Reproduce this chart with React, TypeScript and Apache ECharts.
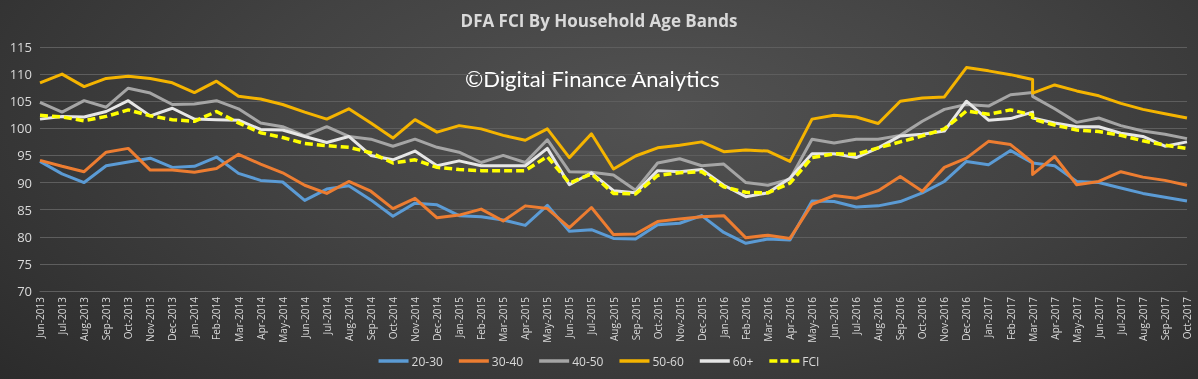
import React, { useEffect, useRef } from "react";
import * as echarts from "echarts";

const months = [
  "Jun-2013", "Jul-2013", "Aug-2013", "Sep-2013", "Oct-2013", "Nov-2013", "Dec-2013",
  "Jan-2014", "Feb-2014", "Mar-2014", "Apr-2014", "May-2014", "Jun-2014", "Jul-2014", "Aug-2014", "Sep-2014", "Oct-2014", "Nov-2014", "Dec-2014",
  "Jan-2015", "Feb-2015", "Mar-2015", "Apr-2015", "May-2015", "Jun-2015", "Jul-2015", "Aug-2015", "Sep-2015", "Oct-2015", "Nov-2015", "Dec-2015",
  "Jan-2016", "Feb-2016", "Mar-2016", "Apr-2016", "May-2016", "Jun-2016", "Jul-2016", "Aug-2016", "Sep-2016", "Oct-2016", "Nov-2016", "Dec-2016",
  "Jan-2017", "Feb-2017", "Mar-2017", "Apr-2017", "May-2017", "Jun-2017", "Jul-2017", "Aug-2017", "Sep-2017", "Oct-2017",
];

// Observation dates: Mar-2017 has two survey points
const pointMonths = [...months.slice(0, 46), "Mar-2017", ...months.slice(46)];

const s2030 = [93.9, 91.6, 90.0, 93.1, 93.8, 94.5, 92.8, 93.0, 94.7, 91.7, 90.4, 90.1, 86.7, 88.8, 89.4, 86.8, 83.8, 86.2, 85.9, 83.9, 83.7, 83.1, 82.1, 85.8, 81.0, 81.3, 79.7, 79.6, 82.2, 82.5, 83.9, 80.8, 78.8, 79.6, 79.4, 86.6, 86.5, 85.5, 85.7, 86.5, 88.1, 90.2, 93.9, 93.3, 95.9, 93.6, 93.6, 93.1, 90.2, 90.0, 89.0, 88.0, 87.3, 86.6];
const s3040 = [94.1, 93.0, 92.0, 95.6, 96.3, 92.3, 92.3, 91.9, 92.6, 95.2, 93.4, 91.8, 89.5, 88.0, 90.2, 88.4, 85.2, 87.1, 83.5, 84.0, 85.1, 82.9, 85.7, 85.2, 81.7, 85.4, 80.4, 80.5, 82.8, 83.3, 83.7, 83.9, 79.8, 80.3, 79.7, 86.0, 87.6, 87.1, 88.5, 91.1, 88.4, 92.8, 94.5, 97.6, 97.0, 93.7, 91.5, 94.8, 89.6, 90.2, 92.0, 91.0, 90.4, 89.5];
const s4050 = [104.8, 103.0, 105.1, 103.9, 107.4, 106.5, 104.4, 104.5, 105.1, 103.6, 101.0, 100.3, 98.6, 100.3, 98.5, 98.0, 96.7, 98.0, 96.5, 95.6, 93.7, 95.0, 93.7, 97.9, 92.0, 91.9, 91.4, 88.6, 93.6, 94.4, 93.1, 93.4, 90.0, 89.5, 90.6, 98.0, 97.3, 98.0, 98.0, 98.7, 101.3, 103.5, 104.4, 104.1, 106.2, 106.6, 105.9, 103.6, 101.1, 101.9, 100.5, 99.5, 98.9, 98.1];
const s5060 = [108.4, 110.0, 107.7, 109.2, 109.6, 109.2, 108.4, 106.6, 108.7, 105.9, 105.4, 104.4, 103.0, 101.7, 103.6, 101.0, 98.2, 101.6, 99.3, 100.5, 99.9, 98.7, 97.8, 99.9, 94.6, 99.0, 92.5, 94.9, 96.4, 96.9, 97.5, 95.7, 96.0, 95.8, 93.9, 101.7, 102.4, 102.1, 100.9, 105.0, 105.6, 105.8, 111.2, 110.6, 109.9, 109.0, 106.5, 108.0, 106.9, 106.0, 104.6, 103.5, 102.7, 101.9];
const s60p = [101.7, 102.2, 102.1, 103.1, 105.1, 102.3, 103.7, 101.7, 101.6, 101.5, 99.8, 99.7, 98.5, 97.4, 98.5, 95.0, 94.2, 95.8, 93.1, 94.0, 93.1, 93.1, 93.1, 96.3, 89.6, 91.8, 88.5, 88.1, 92.2, 92.0, 92.4, 89.5, 87.4, 88.1, 90.8, 95.3, 95.3, 94.6, 96.4, 98.6, 98.9, 99.5, 105.0, 101.5, 101.8, 103.0, 101.9, 101.0, 100.3, 100.3, 99.1, 98.5, 96.7, 97.5];
const fci = [102.4, 102.1, 101.4, 102.2, 103.4, 102.3, 101.6, 101.3, 103.1, 101.0, 99.2, 98.3, 97.2, 96.8, 96.5, 95.5, 93.6, 94.2, 92.8, 92.4, 92.2, 92.2, 92.2, 94.8, 89.9, 91.6, 88.0, 87.9, 91.3, 91.8, 92.0, 89.2, 88.2, 88.1, 89.9, 94.6, 95.3, 95.2, 96.4, 97.5, 98.6, 99.9, 103.2, 102.6, 103.4, 102.5, 101.7, 100.6, 99.7, 99.4, 98.7, 97.7, 96.9, 96.3];

const seriesNames = ["20-30", "30-40", "40-50", "50-60", "60+", "FCI"];
const seriesValues = [s2030, s3040, s4050, s5060, s60p, fci];
const seriesColors = ["#5b9bd5", "#ed7d31", "#a5a5a5", "#f5b400", "#e6e6e6", "#ffff00"];

const title = "DFA FCI By Household Age Bands";
const watermark = "\u00A9Digital Finance Analytics";

const solidIcon = "path://M0,0L30,0L30,3.5L0,3.5Z";
const dashIcon = "path://M0,0L8,0L8,3.5L0,3.5Z M11,0L19,0L19,3.5L11,3.5Z M22,0L30,0L30,3.5L22,3.5Z";

export default function App() {
  const ref = useRef<HTMLDivElement>(null);
  useEffect(() => {
    if (!ref.current) return;
    const chart = echarts.init(ref.current, undefined, { renderer: "svg" });
    const series = seriesNames.map((name, si) => ({
      name,
      type: "line",
      showSymbol: false,
      symbol: "none",
      data: seriesValues[si].map((v, k) => [months.indexOf(pointMonths[k]), v]),
      lineStyle: {
        color: seriesColors[si],
        width: si === 5 ? 3.5 : 3,
        type: si === 5 ? [8, 4] : "solid",
        cap: "butt",
        join: "round",
      },
      itemStyle: { color: seriesColors[si] },
    }));
    chart.setOption({
      animation: false,
      backgroundColor: "transparent",
      textStyle: { fontFamily: "Open Sans" },
      title: {
        text: title,
        left: "center",
        top: 7,
        textStyle: { color: "#d9d9d9", fontSize: 17, fontWeight: "bold", fontFamily: "Open Sans" },
      },
      graphic: [
        {
          type: "text",
          left: 465,
          top: 67,
          style: { text: watermark, fill: "#ffffff", font: "22px Lato" },
        },
      ],
      legend: {
        bottom: 7,
        left: "center",
        itemWidth: 30,
        itemHeight: 3.5,
        itemGap: 16,
        textStyle: { color: "#d9d9d9", fontSize: 12, fontFamily: "Open Sans", padding: [0, 0, 0, -2] },
        data: seriesNames.map((n, i) => ({ name: n, icon: i === 5 ? dashIcon : solidIcon })),
      },
      grid: { left: 40, right: 11, top: 47, bottom: 88, containLabel: false },
      xAxis: {
        type: "category",
        data: months,
        boundaryGap: false,
        axisLine: { show: true, lineStyle: { color: "#5e5e5e" } },
        axisTick: { show: false },
        axisLabel: { interval: 0, rotate: 90, color: "#d9d9d9", fontSize: 10, margin: 6 },
        splitLine: { show: false },
      },
      yAxis: {
        type: "value",
        min: 70,
        max: 115,
        interval: 5,
        axisLine: { show: false },
        axisTick: { show: false },
        axisLabel: { color: "#d9d9d9", fontSize: 13, margin: 8 },
        splitLine: { lineStyle: { color: "#5e5e5e", width: 1 } },
      },
      series,
    });
    return () => chart.dispose();
  }, []);
  return (
    <div
      style={{
        position: "fixed",
        left: 0,
        top: 0,
        width: 1198,
        height: 379,
        background:
          "radial-gradient(ellipse 75% 110% at 55% 30%, #525252 0%, #424242 45%, #2a2a2a 100%)",
      }}
    >
      <div ref={ref} style={{ width: 1198, height: 379 }} />
    </div>
  );
}
